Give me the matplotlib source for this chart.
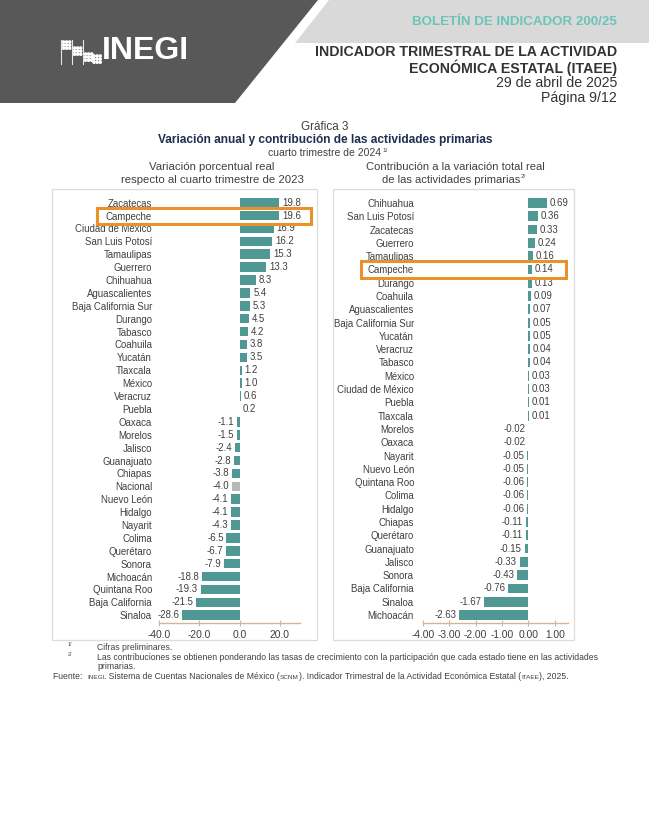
import matplotlib
matplotlib.use('Agg')
import matplotlib.pyplot as plt
from matplotlib.patches import Polygon, Rectangle, Circle

# ---------------- data ----------------
left_states = ['Zacatecas', 'Campeche', 'Ciudad de México', 'San Luis Potosí', 'Tamaulipas',
               'Guerrero', 'Chihuahua', 'Aguascalientes', 'Baja California Sur', 'Durango',
               'Tabasco', 'Coahuila', 'Yucatán', 'Tlaxcala', 'México', 'Veracruz', 'Puebla',
               'Oaxaca', 'Morelos', 'Jalisco', 'Guanajuato', 'Chiapas', 'Nacional',
               'Nuevo León', 'Hidalgo', 'Nayarit', 'Colima', 'Querétaro', 'Sonora',
               'Michoacán', 'Quintana Roo', 'Baja California', 'Sinaloa']
left_values = [19.8, 19.6, 16.9, 16.2, 15.3, 13.3, 8.3, 5.4, 5.3, 4.5, 4.2, 3.8, 3.5, 1.2,
               1.0, 0.6, 0.2, -1.1, -1.5, -2.4, -2.8, -3.8, -4.0, -4.1, -4.1, -4.3, -6.5,
               -6.7, -7.9, -18.8, -19.3, -21.5, -28.6]

right_states = ['Chihuahua', 'San Luis Potosí', 'Zacatecas', 'Guerrero', 'Tamaulipas',
                'Campeche', 'Durango', 'Coahuila', 'Aguascalientes', 'Baja California Sur',
                'Yucatán', 'Veracruz', 'Tabasco', 'México', 'Ciudad de México', 'Puebla',
                'Tlaxcala', 'Morelos', 'Oaxaca', 'Nayarit', 'Nuevo León', 'Quintana Roo',
                'Colima', 'Hidalgo', 'Chiapas', 'Querétaro', 'Guanajuato', 'Jalisco',
                'Sonora', 'Baja California', 'Sinaloa', 'Michoacán']
right_values = [0.69, 0.36, 0.33, 0.24, 0.16, 0.14, 0.13, 0.09, 0.07, 0.05, 0.05, 0.04,
                0.04, 0.03, 0.03, 0.01, 0.01, -0.02, -0.02, -0.05, -0.05, -0.06, -0.06,
                -0.06, -0.11, -0.11, -0.15, -0.33, -0.43, -0.76, -1.67, -2.63]

left_ticks = [-40, -20, 0, 20]
left_ticklabels = ['-40.0', '-20.0', '0.0', '20.0']
left_xlim = (-40, 30)
right_ticks = [-4, -3, -2, -1, 0, 1]
right_ticklabels = ['-4.00', '-3.00', '-2.00', '-1.00', '0.00', '1.00']
right_xlim = (-4, 1.5)
highlight_state = 'Campeche'
national_label = 'Nacional'

# ---------------- style ----------------
W, H, DPI = 649, 840, 100
TEAL = '#4f9893'
GREY_BAR = '#b8b8b8'
AXIS_TAN = '#d8b497'
TXT = '#3f3f3f'
ORANGE = '#e8922c'
plt.rcParams['font.family'] = ['Liberation Sans', 'DejaVu Sans']
NARROW = ['Liberation Sans Narrow', 'Liberation Sans', 'DejaVu Sans']

fig = plt.figure(figsize=(W / DPI, H / DPI), dpi=DPI)
fig.patch.set_facecolor('white')


def px_axes(l, t, r, b, **kw):
    return fig.add_axes([l / W, 1 - b / H, (r - l) / W, (b - t) / H], **kw)


def bar_panel(ax, states, values, xlim, ticks, ticklabels, fmt, ypad):
    n = len(states)
    ys = list(range(n))
    colors = [GREY_BAR if s == national_label else TEAL for s in states]
    ax.barh(ys, values, height=0.74, color=colors, zorder=2)
    ax.set_xlim(*xlim)
    ax.set_ylim(n - 1 + 0.6, -0.75)
    for s in ['top', 'right', 'left']:
        ax.spines[s].set_visible(False)
    ax.spines['bottom'].set_color(AXIS_TAN)
    ax.spines['bottom'].set_linewidth(1.0)
    ax.set_xticks(ticks)
    ax.set_xticklabels(ticklabels)
    ax.tick_params(axis='x', direction='inout', length=4, color=AXIS_TAN,
                   labelsize=7.4, labelcolor=TXT, pad=3)
    ax.set_yticks(ys)
    ax.set_yticklabels(states)
    ax.tick_params(axis='y', length=0, labelsize=6.9, labelcolor=TXT, pad=ypad)
    ax.patch.set_alpha(0)
    for y, v in zip(ys, values):
        if v >= 0:
            ax.annotate(fmt.format(v), (v, y), xytext=(2, 0), textcoords='offset points',
                        ha='left', va='center', fontsize=6.9, color=TXT)
        else:
            ax.annotate(fmt.format(v), (v, y), xytext=(-2, 0), textcoords='offset points',
                        ha='right', va='center', fontsize=6.9, color=TXT)


axL = px_axes(159, 193, 300, 623)
bar_panel(axL, left_states, left_values, left_xlim, left_ticks, left_ticklabels, '{:.1f}', 5)
axR = px_axes(423, 193, 568, 623)
bar_panel(axR, right_states, right_values, right_xlim, right_ticks, right_ticklabels, '{:.2f}', 6.5)

# ---------------- overlay (pixel coordinates) ----------------
ov = fig.add_axes([0, 0, 1, 1], zorder=10)
ov.set_xlim(0, W)
ov.set_ylim(H, 0)
ov.axis('off')
ov.patch.set_alpha(0)

# header shapes
ov.add_patch(Polygon([(0, 0), (318, 0), (235, 103), (0, 103)], closed=True,
                     facecolor='#585858', edgecolor='none'))
ov.add_patch(Polygon([(329, 0), (W, 0), (W, 43), (295, 43)], closed=True,
                     facecolor='#d9d9d9', edgecolor='none'))

# INEGI logo
ov.text(102, 51, 'INEGI', color='white', fontsize=23, fontweight='bold',
        ha='left', va='center')
for lx in [61, 72, 83]:
    ov.plot([lx, lx], [40, 64], color='#e6e6e6', lw=0.8)
dot_groups = [(63.5, 42, 2, 3), (74.5, 48, 2, 3), (85.5, 54, 2, 3), (94, 56, 2, 3)]
for gx, gy, nc, nr in dot_groups:
    for c in range(nc + 1):
        for r in range(nr):
            ov.add_patch(Circle((gx + c * 3.1, gy + r * 3.1), 1.1, color='white'))

ov.text(617, 22, 'BOLETÍN DE INDICADOR 200/25', color='#6cc3b8', fontsize=9.6,
        fontweight='bold', ha='right', va='center')
ov.text(617, 52, 'INDICADOR TRIMESTRAL DE LA ACTIVIDAD', color='#333333', fontsize=10.2,
        fontweight='bold', ha='right', va='center', family=NARROW)
ov.text(617, 67.5, 'ECONÓMICA ESTATAL (ITAEE)', color='#333333', fontsize=10.2,
        fontweight='bold', ha='right', va='center', family=NARROW)
ov.text(617, 83, '29 de abril de 2025', color='#333333', fontsize=10.2,
        ha='right', va='center', family=NARROW)
ov.text(617, 98, 'Página 9/12', color='#333333', fontsize=10.2,
        ha='right', va='center', family=NARROW)

# titles
ov.text(325, 127, 'Gráfica 3', color='#404040', fontsize=8.4, ha='center', va='center')
ov.text(325, 140, 'Variación anual y contribución de las actividades primarias',
        color='#1f2f4f', fontsize=8.6, fontweight='bold', ha='center', va='center')
t1 = ov.text(325, 153, 'cuarto trimestre de 2024', color='#404040', fontsize=7.5,
             ha='center', va='center')

fig.canvas.draw()
renderer = fig.canvas.get_renderer()

t1_right = t1.get_window_extent(renderer).x1
ov.text(t1_right + 1, 150, '1/', color='#404040', fontsize=4.6, ha='left', va='center')

ov.text(212, 167, 'Variación porcentual real', color='#404040', fontsize=8.2,
        ha='center', va='center')
ov.text(212, 180, 'respecto al cuarto trimestre de 2023', color='#404040', fontsize=8.2,
        ha='center', va='center')
ov.text(455, 167, 'Contribución a la variación total real', color='#404040', fontsize=8.0,
        ha='center', va='center')
t2 = ov.text(451, 180, 'de las actividades primarias', color='#404040', fontsize=8.0,
             ha='center', va='center')
fig.canvas.draw()
t2_right = t2.get_window_extent(renderer).x1
ov.text(t2_right + 1, 177, '2/', color='#404040', fontsize=4.6, ha='left', va='center')

# panel frames
ov.add_patch(Rectangle((52, 189), 265, 451, facecolor='none', edgecolor='#dcdcdc', lw=0.9))
ov.add_patch(Rectangle((333, 189), 241, 451, facecolor='none', edgecolor='#dcdcdc', lw=0.9))

# highlight boxes (around Campeche rows)
iL = left_states.index(highlight_state)
iR = right_states.index(highlight_state)
yL_px = H - axL.transData.transform((0, iL))[1]
yR_px = H - axR.transData.transform((0, iR))[1]
ov.add_patch(Rectangle((97, yL_px - 8), 214, 16.5, facecolor='none', edgecolor=ORANGE, lw=2.2))
ov.add_patch(Rectangle((361, yR_px - 8.5), 205, 17.5, facecolor='none', edgecolor=ORANGE, lw=2.2))

# footnotes
FS = 6.2
ov.text(68, 644, '1/', color='#404040', fontsize=3.8, ha='left', va='center')
ov.text(97, 647, 'Cifras preliminares.', color='#404040', fontsize=FS, ha='left', va='center')
ov.text(68, 654, '2/', color='#404040', fontsize=3.8, ha='left', va='center')
ov.text(97, 657.5, 'Las contribuciones se obtienen ponderando las tasas de crecimiento con la '
        'participación que cada estado tiene en las actividades', color='#404040',
        fontsize=FS, ha='left', va='center')
ov.text(97, 666.5, 'primarias.', color='#404040', fontsize=FS, ha='left', va='center')

pieces = [('Fuente:  ', FS), ('INEGI', 4.6), ('. Sistema de Cuentas Nacionales de México (', FS),
          ('SCNM', 4.6), ('). Indicador Trimestral de la Actividad Económica Estatal (', FS),
          ('ITAEE', 4.6), ('), 2025.', FS)]
x = 53
for txt, fs in pieces:
    t = ov.text(x, 679, txt, color='#404040', fontsize=fs, ha='left', va='baseline')
    fig.canvas.draw()
    bb = t.get_window_extent(renderer)
    x = x + bb.width

fig.savefig('out.png', dpi=DPI)
